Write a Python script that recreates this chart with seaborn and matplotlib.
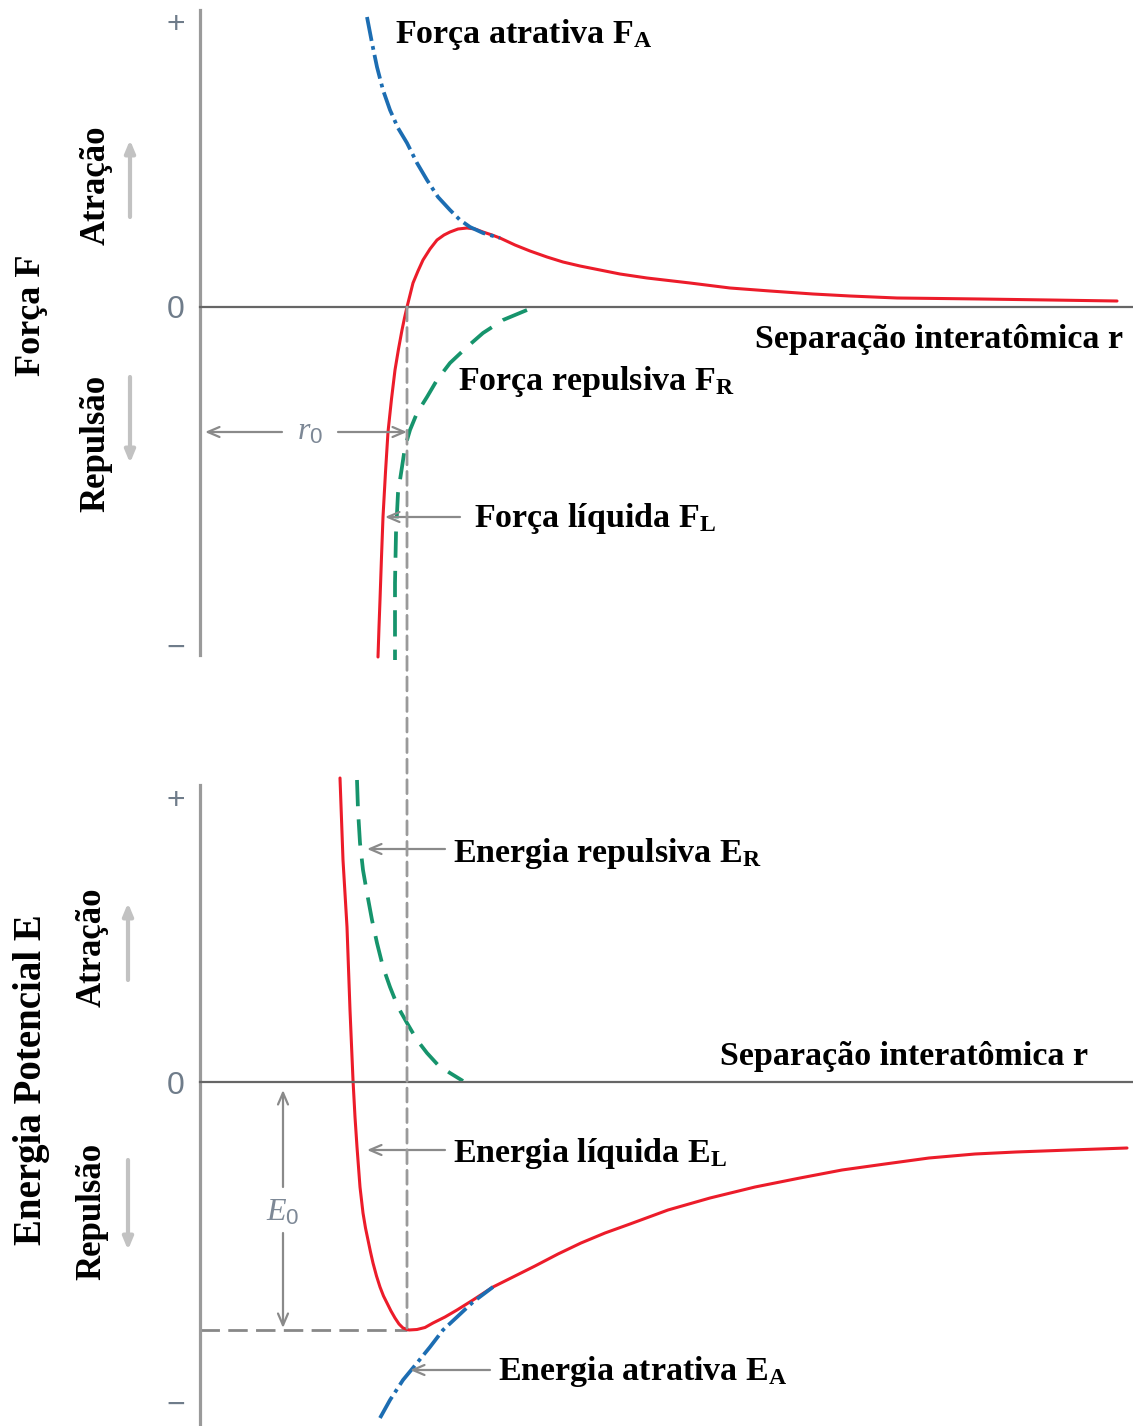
import matplotlib
matplotlib.use('Agg')
import matplotlib.pyplot as plt
import seaborn as sns
from matplotlib.patches import ConnectionPatch

# Curves (r = separation, F / E = force / energy, arbitrary units)
# --- top panel: forces ---
r_FL = [1.78, 1.79, 1.80, 1.815, 1.83, 1.855, 1.88, 1.915, 1.95, 1.985, 2.02, 2.045, 2.07,
        2.10, 2.13, 2.18, 2.23, 2.30, 2.37, 2.44, 2.50, 2.58, 2.67, 2.75, 2.83, 2.92, 3.00,
        3.15, 3.30, 3.47, 3.63, 3.80, 4.00, 4.20, 4.47, 4.90, 5.30, 5.70, 6.13, 6.50, 6.97,
        7.40, 7.80, 8.50, 9.17]
F_FL = [-3.50, -3.20, -2.93, -2.50, -2.10, -1.65, -1.25, -0.92, -0.63, -0.42, -0.23, -0.11, 0.00,
        0.12, 0.24, 0.36, 0.47, 0.58, 0.67, 0.72, 0.75, 0.78, 0.79, 0.78, 0.75, 0.72, 0.69,
        0.62, 0.56, 0.50, 0.45, 0.41, 0.37, 0.33, 0.29, 0.24, 0.19, 0.16, 0.13, 0.11, 0.09,
        0.085, 0.08, 0.07, 0.06]

r_FA = [1.67, 1.72, 1.77, 1.83, 1.90, 1.98, 2.07, 2.17, 2.27, 2.38, 2.50, 2.60, 2.70, 2.83, 3.00]
F_FA = [2.90, 2.64, 2.40, 2.17, 1.97, 1.79, 1.64, 1.44, 1.27, 1.10, 0.97, 0.87, 0.80, 0.74, 0.69]

r_FR = [3.27, 3.03, 2.83, 2.67, 2.50, 2.37, 2.27, 2.17, 2.10, 2.05, 2.02, 1.98, 1.96, 1.95, 1.95]
F_FR = [-0.03, -0.13, -0.26, -0.40, -0.56, -0.73, -0.90, -1.06, -1.23, -1.40, -1.60, -1.86, -2.26, -2.76, -3.53]

# --- bottom panel: potential energy ---
r_EL = [1.40, 1.43, 1.47, 1.50, 1.53, 1.55, 1.57, 1.60, 1.63, 1.655, 1.68, 1.705, 1.73, 1.765,
        1.80, 1.835, 1.87, 1.91, 1.95, 1.99, 2.03, 2.09, 2.17, 2.25, 2.33, 2.45, 2.57, 2.73,
        2.93, 3.15, 3.35, 3.58, 3.81, 4.05, 4.30, 4.68, 5.10, 5.55, 6.00, 6.42, 6.85, 7.29,
        7.75, 8.16, 8.70, 9.27]
E_EL = [3.04, 2.22, 1.55, 0.72, 0.02, -0.35, -0.65, -1.05, -1.31, -1.46, -1.58, -1.70, -1.81, -1.94,
        -2.05, -2.14, -2.21, -2.29, -2.36, -2.42, -2.46, -2.48, -2.475, -2.455, -2.41, -2.35, -2.28, -2.18,
        -2.05, -1.94, -1.84, -1.72, -1.61, -1.51, -1.42, -1.28, -1.16, -1.05, -0.96, -0.88, -0.82, -0.76,
        -0.72, -0.70, -0.68, -0.66]

r_ER = [1.57, 1.58, 1.60, 1.63, 1.67, 1.72, 1.77, 1.83, 1.90, 1.98, 2.07, 2.17, 2.27, 2.38, 2.50, 2.63]
E_ER = [3.02, 2.72, 2.39, 2.12, 1.89, 1.62, 1.39, 1.15, 0.95, 0.75, 0.59, 0.42, 0.29, 0.17, 0.09, 0.01]

r_EA = [1.80, 1.90, 2.03, 2.17, 2.30, 2.43, 2.57, 2.73, 2.93]
E_EA = [-3.36, -3.18, -2.98, -2.81, -2.65, -2.48, -2.35, -2.20, -2.05]

r0 = 2.07
E0 = -2.48

sns.set_theme(style='white')
plt.rcParams['font.family'] = ['Liberation Serif', 'DejaVu Serif']
plt.rcParams['mathtext.fontset'] = 'custom'
plt.rcParams['mathtext.rm'] = 'Liberation Serif'
plt.rcParams['mathtext.bf'] = 'Liberation Serif:bold'
plt.rcParams['mathtext.it'] = 'Liberation Serif:italic'
plt.rcParams['mathtext.sf'] = 'Liberation Sans'

RED = '#ec1c2a'
BLUE = '#1c6db2'
GREEN = '#16946c'
GRAY = '#9a9a9a'
LABEL_FS = 24.5

fig = plt.figure(figsize=(11.33, 14.26), dpi=100)
ax1 = fig.add_axes([0, 1 - 700 / 1426, 1, 700 / 1426])
ax2 = fig.add_axes([0, 0, 1, 706 / 1426])
ax1.set_xlim(-2.0, 9.33)
ax1.set_ylim(-3.93, 3.07)
ax2.set_xlim(-2.0, 9.33)
ax2.set_ylim(-3.44, 3.62)

for ax, top, bot, ticks in [(ax1, 2.97, -3.48, [2.85, 0, -3.38]),
                            (ax2, 2.97, -3.44, [2.85, 0, -3.20])]:
    ax.patch.set_alpha(0)
    ax.spines['top'].set_visible(False)
    ax.spines['right'].set_visible(False)
    ax.spines['left'].set_position(('data', 0))
    ax.spines['left'].set_bounds(bot, top)
    ax.spines['left'].set_color(GRAY)
    ax.spines['left'].set_linewidth(2.3)
    ax.spines['bottom'].set_position(('data', 0))
    ax.spines['bottom'].set_bounds(0, 9.33)
    ax.spines['bottom'].set_color('#666666')
    ax.spines['bottom'].set_linewidth(1.6)
    ax.set_xticks([])
    ax.set_yticks(ticks, ['+', '0', '\u2212'])
    ax.tick_params(axis='y', length=0, pad=11, labelsize=23, labelcolor='#6f7c8a')
    for lab in ax.get_yticklabels():
        lab.set_fontfamily(['Liberation Sans', 'DejaVu Sans'])
    ax.set_xlabel('')
    ax.set_ylabel('')


def curve(ax, r, v, color, ls, lw):
    sns.lineplot(x=r, y=v, ax=ax, color=color, sort=False, estimator=None)
    line = ax.get_lines()[-1]
    line.set_linewidth(lw)
    line.set_linestyle(ls)
    line.set_solid_capstyle('round')


GREEN_LS = (0, (7.0, 3.5))
BLUE_LS = (0, (6.5, 1.4, 1.0, 1.4))

# forces
curve(ax1, r_FR, F_FR, GREEN, GREEN_LS, 2.7)
curve(ax1, r_FL, F_FL, RED, '-', 2.2)
curve(ax1, r_FA, F_FA, BLUE, BLUE_LS, 2.7)

# energies
curve(ax2, r_ER, E_ER, GREEN, GREEN_LS, 2.7)
curve(ax2, r_EL, E_EL, RED, '-', 2.2)
curve(ax2, r_EA, E_EA, BLUE, BLUE_LS, 2.7)

# r0 guide between the two panels and E0 level
con = ConnectionPatch(xyA=(r0, 0), coordsA=ax1.transData, xyB=(r0, E0), coordsB=ax2.transData,
                      color=GRAY, linewidth=2.0, linestyle=(0, (5.0, 2.4)), zorder=1)
fig.add_artist(con)
ax2.plot([0, r0], [E0, E0], color='#888888', linewidth=2.0, linestyle=(0, (7, 3)), zorder=1)

arrow_kw = dict(arrowstyle='->,head_length=0.7,head_width=0.3', color='#8a8a8a', lw=1.6,
                shrinkA=0, shrinkB=0)

# r0 dimension
ax1.annotate('', xy=(0.05, -1.25), xytext=(0.82, -1.25), arrowprops=arrow_kw)
ax1.annotate('', xy=(r0, -1.25), xytext=(1.38, -1.25), arrowprops=arrow_kw)
ax1.text(1.10, -1.25, r'$r_\mathsf{0}$', fontsize=23, color='#7d8896', ha='center', va='center')

# E0 dimension
ax2.annotate('', xy=(0.83, -0.08), xytext=(0.83, -1.05), arrowprops=arrow_kw)
ax2.annotate('', xy=(0.83, E0 + 0.02), xytext=(0.83, -1.51), arrowprops=arrow_kw)
ax2.text(0.83, -1.31, r'$E_\mathsf{0}$', fontsize=23, color='#7d8896', ha='center', va='center')

# pointers to curves
ax1.annotate('', xy=(1.85, -2.10), xytext=(2.60, -2.10), arrowprops=arrow_kw)
ax2.annotate('', xy=(1.67, 2.33), xytext=(2.45, 2.33), arrowprops=arrow_kw)
ax2.annotate('', xy=(1.67, -0.68), xytext=(2.45, -0.68), arrowprops=arrow_kw)
ax2.annotate('', xy=(2.10, -2.88), xytext=(2.90, -2.88), arrowprops=arrow_kw)

# curve labels
lab = dict(fontsize=LABEL_FS, fontweight='bold', color='black', va='baseline')
ax1.text(1.95, 2.64, r'Força atrativa F$_\mathbf{A}$', ha='left', **lab)
ax1.text(9.23, -0.41, 'Separação interatômica r', ha='right', **lab)
ax1.text(2.58, -0.83, r'Força repulsiva F$_\mathbf{R}$', ha='left', **lab)
ax1.text(2.74, -2.20, r'Força líquida F$_\mathbf{L}$', ha='left', **lab)
ax2.text(2.53, 2.20, r'Energia repulsiva E$_\mathbf{R}$', ha='left', **lab)
ax2.text(8.88, 0.17, 'Separação interatômica r', ha='right', **lab)
ax2.text(2.53, -0.80, r'Energia líquida E$_\mathbf{L}$', ha='left', **lab)
ax2.text(2.98, -2.98, r'Energia atrativa E$_\mathbf{A}$', ha='left', **lab)

# side labels
side = dict(fontweight='bold', color='black', rotation=90, ha='center', va='center')
ax1.text(-1.68, -0.08, 'Força F', fontsize=26, **side)
ax1.text(-1.04, 1.22, 'Atração', fontsize=25, **side)
ax1.text(-1.04, -1.36, 'Repulsão', fontsize=25, **side)
ax2.text(-1.68, 0.02, 'Energia Potencial E', fontsize=28, **side)
ax2.text(-1.08, 1.35, 'Atração', fontsize=25, **side)
ax2.text(-1.08, -1.29, 'Repulsão', fontsize=25, **side)

dir_kw = dict(arrowstyle='-|>,head_length=0.6,head_width=0.25', color='#c2c2c2', lw=3,
              shrinkA=0, shrinkB=0)
ax1.annotate('', xy=(-0.70, 1.67), xytext=(-0.70, 0.90), arrowprops=dir_kw)
ax1.annotate('', xy=(-0.70, -1.56), xytext=(-0.70, -0.70), arrowprops=dir_kw)
ax2.annotate('', xy=(-0.72, 1.79), xytext=(-0.72, 1.02), arrowprops=dir_kw)
ax2.annotate('', xy=(-0.72, -1.68), xytext=(-0.72, -0.78), arrowprops=dir_kw)

fig.savefig('out.png', dpi=100)
